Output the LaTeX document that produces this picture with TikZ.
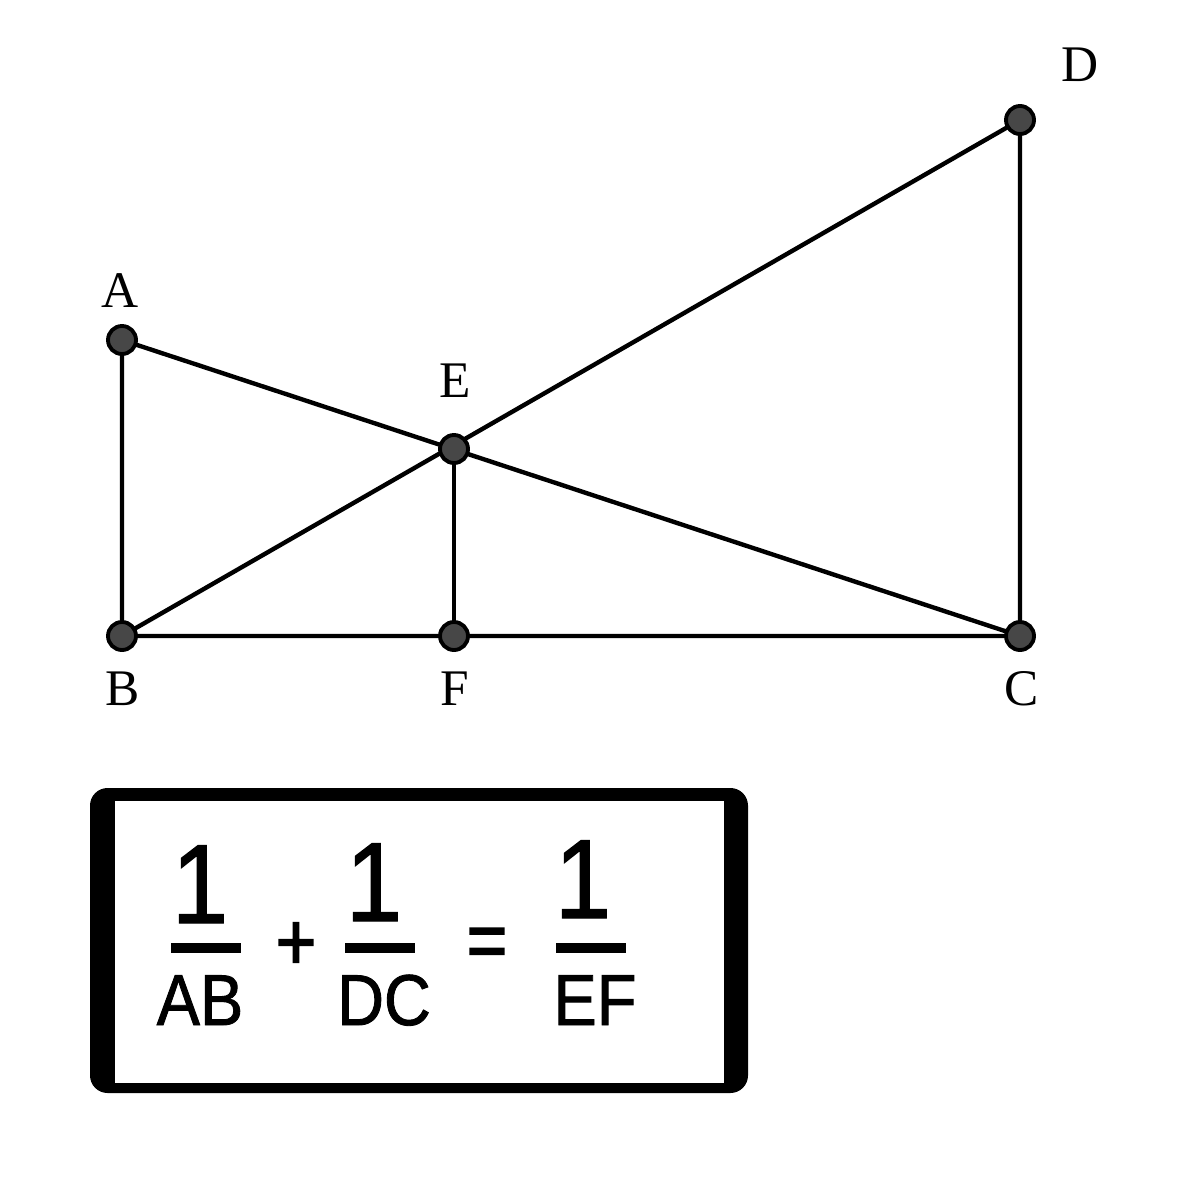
\documentclass[tikz,border=0pt]{standalone}
\usepackage{fontspec}
\setmainfont{Liberation Serif}
\newfontfamily\eqfont[FakeStretch=0.9,FakeBold=1.2]{Liberation Sans}
\newfontfamily\opfont[FakeBold=2,FakeStretch=0.85]{Liberation Sans}
\begin{document}
\begin{tikzpicture}[x=0.01cm,y=-0.01cm,
  seg/.style={line width=1.25pt,black},
  pt/.style={circle,draw=black,fill=black!72,line width=1.1pt,minimum size=0.28cm,inner sep=0pt},
  lbl/.style={font=\fontsize{14.6}{16}\selectfont,inner sep=0pt},
  num/.style={font=\eqfont\fontsize{32}{34}\selectfont,inner sep=0pt,anchor=base},
  den/.style={font=\eqfont\fontsize{20.5}{22}\selectfont,inner sep=0pt,anchor=base},
  op/.style={font=\opfont\fontsize{23}{25}\selectfont,inner sep=0pt},
  bar/.style={fill=black,draw=none}]
\useasboundingbox (0,0) rectangle (1200,1200);
\fill[white] (0,0) rectangle (1200,1200);
% points
\coordinate (A) at (122,340);
\coordinate (B) at (122,636);
\coordinate (F) at (454,636);
\coordinate (C) at (1020,636);
\coordinate (D) at (1020,120);
\coordinate (E) at (454,449);
% segments
\draw[seg] (A) -- (B) -- (C) -- (D) -- (B);
\draw[seg] (A) -- (C);
\draw[seg] (E) -- (F);
% dots
\foreach \p in {A,B,F,C,D,E} \node[pt] (dot\p) at (\p) {};
% labels
\node[lbl] (lA) at (120,291) {A};
\node[lbl] (lB) at (123,689) {B};
\node[lbl] (lF) at (455,689) {F};
\node[lbl] (lC) at (1022,689) {C};
\node[lbl] (lD) at (1080,65) {D};
\node[lbl] (lE) at (455,381) {E};
% box
\fill[black,rounded corners=5] (90,788) rectangle (748,1093);
\fill[white] (115,801) rectangle (724,1083);
% fraction bars
\fill[bar] (171,943) rectangle (241,953);
\fill[bar] (345,943) rectangle (415,953);
\fill[bar] (556,943) rectangle (626,953);
% numerators
\node[num] (n1) at (200,923) {1};
\node[num] (n2) at (374,921) {1};
\node[num] (n3) at (583,918) {1};
% denominators
\node[den] (d1) at (200,1025) {AB};
\node[den] (d2) at (384,1025) {DC};
\node[den] (d3) at (595,1025) {EF};
% operators
\node[op] (plus) at (296,946) {+};
\node[op] (eq) at (487,948) {=};
\end{tikzpicture}
\end{document}
